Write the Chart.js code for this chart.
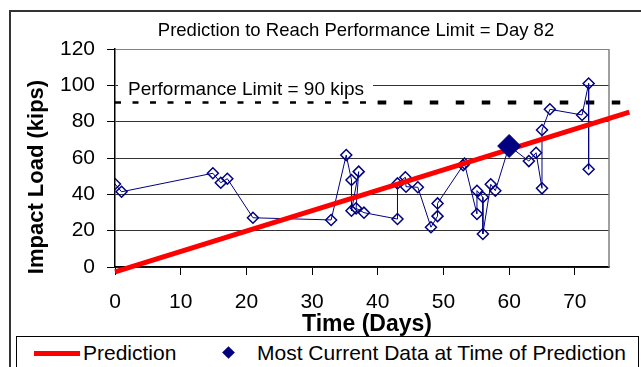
<!DOCTYPE html>
<html>
<head>
<meta charset="utf-8">
<script src="https://cdn.jsdelivr.net/npm/chart.js@4"></script>
<style>
  html, body { margin: 0; padding: 0; background: #fff; width: 641px; height: 367px; overflow: hidden; }
  #frame { position: absolute; left: 9px; top: 10px; width: 660px; height: 400px; border-left: 2px solid #333; border-top: 2px solid #333; }
  #chart { position: absolute; left: 0; top: 0; }
  #legend { position: absolute; left: 16px; top: 336px; width: 621px; height: 40px; border: 1px solid #000; background: #fff;
            font-family: "Liberation Sans", Arial, sans-serif; font-size: 21px; color: #000; }
  .item { position: absolute; top: 4px; line-height: 24px; white-space: nowrap; }
  .swatch-line { position: absolute; left: 17px; top: 14px; width: 46px; height: 5px; background: #ff0000; }
  .swatch-diamond { position: absolute; left: 207px; top: 11px; width: 9px; height: 9px; background: #000080; transform: rotate(45deg); }
</style>
</head>
<body>
<div id="frame"></div>
<canvas id="chart" width="641" height="367"></canvas>
<div id="legend">
  <div class="swatch-line"></div><div class="item" style="left:66px">Prediction</div>
  <div class="swatch-diamond"></div><div class="item" style="left:240px">Most Current Data at Time of Prediction</div>
</div>
<script>
// measured impact loads (days, kips)
const loadDays = [0, 1.0, 14.9, 16.1, 17.1, 21.0, 32.9, 35.2, 36.0, 36.0, 37.1, 36.7, 37.9,
                  43.0, 43.0, 44.2, 44.3, 46.1, 48.1, 49.1, 49.1, 53.0, 53.2, 55.1, 55.1,
                  56.0, 56.0, 57.2, 57.9, 60.0, 63.0, 64.1, 65.0, 65.0, 66.2, 71.1, 72.1, 72.1];
const loadKips = [45.7, 41.4, 51.6, 46.4, 48.6, 27.1, 25.9, 61.6, 47.9, 31.0, 52.5, 32.3, 29.9,
                  26.4, 46.0, 49.4, 44.2, 43.9, 21.9, 28.0, 35.0, 56.0, 57.0, 29.2, 42.0,
                  38.4, 18.2, 45.5, 42.0, 66.6, 58.3, 62.9, 43.3, 75.4, 86.8, 83.7, 101.0, 53.8];

// most current data point at time of prediction
const currentDay = [60.0];
const currentKips = [66.6];

// prediction trend line
const predDays = [0, 78.3];
const predKips = [-2.7, 85.3];

// performance limit
const limitDays = [0, 40, 77.2];
const limitKips = [90.5, 90.5, 90.5];
const limitValue = 90;
const predictedDay = 82;

const xTicks = [0, 10, 20, 30, 40, 50, 60, 70];
const yTicks = [0, 20, 40, 60, 80, 100, 120];

const FONT = '"Liberation Sans", Arial, sans-serif';
const NAVY = '#000080';

function pts(xs, ys) { return xs.map((x, i) => ({ x: x, y: ys[i] })); }

const textPlugin = {
  id: 'texts',
  beforeDatasetsDraw(chart) {
    const { ctx, chartArea: a, scales } = chart;
    ctx.save();
    // right border of plot area
    ctx.strokeStyle = '#808080';
    ctx.lineWidth = 1.5;
    ctx.beginPath();
    ctx.moveTo(a.right, a.top);
    ctx.lineTo(a.right, a.bottom);
    ctx.stroke();
    // performance limit label
    const lx = scales.x.getPixelForValue(0) + 13;
    const ly = scales.y.getPixelForValue(100) + 4;
    ctx.font = '19px ' + FONT;
    const label = 'Performance Limit = ' + limitValue + ' kips';
    const w = ctx.measureText(label).width;
    ctx.fillStyle = '#fff';
    ctx.fillRect(lx - 10, ly - 11, w + 19, 22);
    ctx.fillStyle = '#000';
    ctx.textBaseline = 'middle';
    ctx.fillText(label, lx, ly);
    ctx.restore();
  },
  afterDraw(chart) {
    const { ctx } = chart;
    ctx.save();
    ctx.fillStyle = '#000';
    ctx.textAlign = 'center';
    ctx.textBaseline = 'middle';
    ctx.font = '18.5px ' + FONT;
    ctx.fillText('Prediction to Reach Performance Limit = Day ' + predictedDay, 356, 31);
    ctx.font = 'bold 23px ' + FONT;
    ctx.fillText('Time (Days)', 367, 325);
    ctx.font = 'bold 22px ' + FONT;
    ctx.translate(37, 177);
    ctx.rotate(-Math.PI / 2);
    ctx.fillText('Impact Load (kips)', 0, 0);
    ctx.restore();
  }
};

new Chart(document.getElementById('chart'), {
  type: 'line',
  data: {
    datasets: [
      {
        label: 'Most Current Data at Time of Prediction',
        data: pts(currentDay, currentKips),
        showLine: false,
        pointStyle: 'rectRot',
        pointRadius: 11.5,
        backgroundColor: NAVY,
        borderColor: NAVY,
        borderWidth: 1,
        order: 0
      },
      {
        label: 'Impact Load',
        data: pts(loadDays, loadKips),
        borderColor: NAVY,
        borderWidth: 1,
        pointStyle: 'rectRot',
        pointRadius: 5.5,
        pointBorderWidth: 1.5,
        pointBorderColor: NAVY,
        pointBackgroundColor: 'rgba(255,255,255,0)',
        order: 2
      },
      {
        label: 'Prediction',
        data: pts(predDays, predKips),
        borderColor: '#ff0000',
        borderWidth: 5,
        pointRadius: 0,
        clip: false,
        order: 1
      },
      {
        label: 'Performance Limit',
        data: pts(limitDays, limitKips),
        borderColor: '#000',
        pointRadius: 0,
        clip: false,
        segment: {
          borderWidth: c => c.p0DataIndex === 0 ? 2.5 : 4,
          borderDash: c => c.p0DataIndex === 0 ? [6, 11.5] : [8.5, 17.5]
        },
        order: 3
      }
    ]
  },
  options: {
    responsive: false,
    animation: false,
    devicePixelRatio: 1,
    layout: { padding: { left: 0, right: 32, top: 49, bottom: 0 } },
    plugins: { legend: { display: false }, title: { display: false }, tooltip: { enabled: false } },
    scales: {
      x: {
        type: 'linear',
        min: 0,
        max: 75.2,
        afterFit: s => { s.height = 100; },
        afterBuildTicks: s => { s.ticks = xTicks.map(v => ({ value: v })); },
        border: { color: '#000', width: 1.5 },
        grid: { drawOnChartArea: false, drawTicks: true, tickLength: 8, tickColor: '#000', color: '#000' },
        ticks: { color: '#000', padding: 15, maxRotation: 0, font: { family: FONT, size: 21 } }
      },
      y: {
        min: 0,
        max: 120,
        afterFit: s => { s.width = 115; },
        afterBuildTicks: s => { s.ticks = yTicks.map(v => ({ value: v })); },
        border: { color: '#000', width: 1.5 },
        grid: {
          color: c => c.tick && c.tick.value === 120 ? '#808080' : '#333',
          lineWidth: 1,
          drawTicks: true,
          tickLength: 8,
          tickColor: '#000'
        },
        ticks: { color: '#000', padding: 12, font: { family: FONT, size: 21 } }
      }
    }
  },
  plugins: [textPlugin]
});
</script>
</body>
</html>
